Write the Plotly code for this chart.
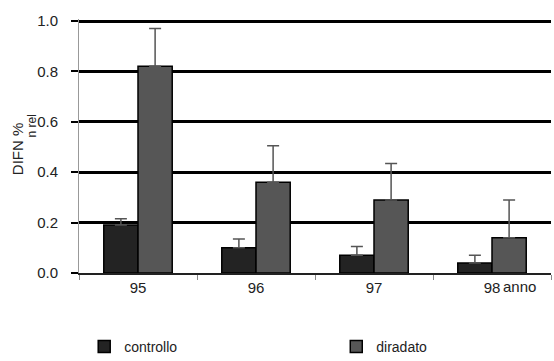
import plotly.graph_objects as go

years = ["95", "96", "97", "98"]
controllo = [0.19, 0.10, 0.07, 0.04]
controllo_err = [0.025, 0.035, 0.035, 0.03]
diradato = [0.82, 0.36, 0.29, 0.14]
diradato_err = [0.15, 0.145, 0.145, 0.15]
y_ticks = [0.0, 0.2, 0.4, 0.6, 0.8, 1.0]

font = dict(family="Liberation Sans, Arial, sans-serif", size=14, color="#222")

fig = go.Figure()
fig.add_bar(
    name="controllo", x=years, y=controllo, legend="legend",
    marker=dict(color="#232323", line=dict(color="#000", width=1.5)),
    error_y=dict(type="data", symmetric=False, array=controllo_err,
                 arrayminus=[0] * len(years), color="#555", thickness=1.5, width=6),
)
fig.add_bar(
    name="diradato", x=years, y=diradato, legend="legend2",
    marker=dict(color="#565656", line=dict(color="#000", width=1.5)),
    error_y=dict(type="data", symmetric=False, array=diradato_err,
                 arrayminus=[0] * len(years), color="#555", thickness=1.5, width=6),
)

legend_common = dict(orientation="h", xref="container", yref="container",
                     xanchor="left", yanchor="middle", itemwidth=30,
                     bgcolor="rgba(0,0,0,0)", font=dict(size=14, color="#222"))

fig.update_layout(
    width=554, height=361,
    margin=dict(l=79, r=3, t=19, b=88, autoexpand=False),
    paper_bgcolor="white", plot_bgcolor="white",
    font=font,
    barmode="group", bargap=0.42, bargroupgap=0,
    showlegend=True,
    legend=dict(x=0.152, y=0.039, **legend_common),
    legend2=dict(x=0.607, y=0.039, **legend_common),
    xaxis=dict(showline=True, linecolor="#222", linewidth=1.5,
               ticks="outside", tickson="boundaries", ticklen=5, tickcolor="#888",
               showgrid=False, range=[-0.5, 3.5], tickfont=dict(size=15)),
    yaxis=dict(range=[0, 1.008], tickvals=y_ticks, tickformat=".1f",
               showgrid=True, gridcolor="#000", gridwidth=3,
               zeroline=False, showline=True, linecolor="#999", linewidth=1,
               ticks="outside", ticklen=7, tickcolor="#000", tickwidth=2,
               ticklabelstandoff=10, tickfont=dict(size=15)),
)

fig.add_annotation(text="DIFN %", textangle=-90, xref="paper", yref="paper",
                   x=-0.13, y=0.49, xanchor="center", yanchor="middle",
                   showarrow=False, font=dict(size=15, color="#222"))
fig.add_annotation(text="n rel", textangle=-90, xref="paper", yref="paper",
                   x=-0.1, y=0.58, xanchor="center", yanchor="middle",
                   showarrow=False, font=dict(size=12, color="#222"))
fig.add_annotation(text="anno", xref="x", yref="paper", x=3.08, y=-0.012,
                   xanchor="left", yanchor="top", showarrow=False,
                   font=dict(size=15, color="#222"))

fig.write_html("out.html")
